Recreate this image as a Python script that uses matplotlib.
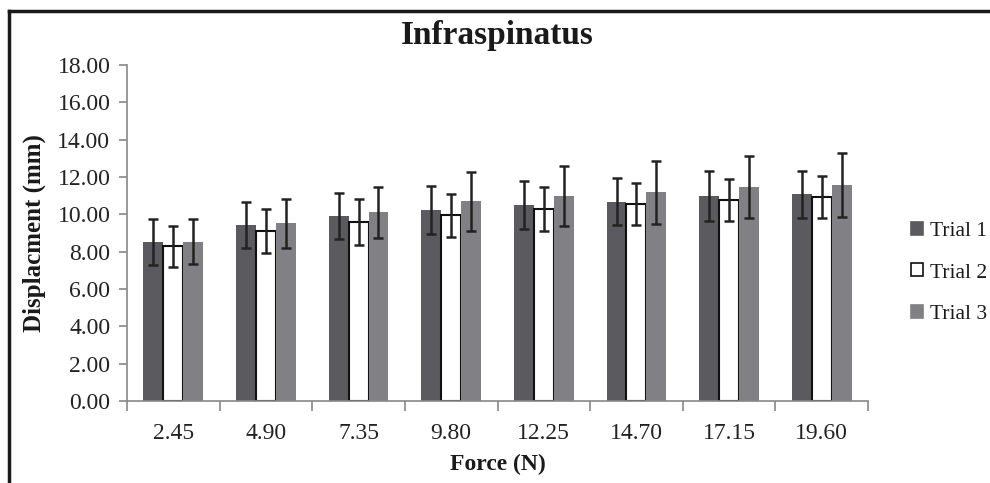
import numpy as np
import matplotlib.pyplot as plt
from matplotlib.patches import Patch
from matplotlib.lines import Line2D

plt.rcParams['font.family'] = ['Liberation Serif', 'DejaVu Serif']

# Data
forces = ["2.45", "4.90", "7.35", "9.80", "12.25", "14.70", "17.15", "19.60"]
trial1 = [8.53, 9.41, 9.91, 10.21, 10.48, 10.68, 10.98, 11.07]
trial2 = [8.29, 9.10, 9.59, 9.96, 10.27, 10.55, 10.77, 10.94]
trial3 = [8.53, 9.52, 10.11, 10.69, 10.98, 11.17, 11.48, 11.57]
err1 = [1.22, 1.23, 1.24, 1.29, 1.28, 1.27, 1.33, 1.24]
err2 = [1.10, 1.18, 1.23, 1.15, 1.17, 1.13, 1.13, 1.12]
err3 = [1.20, 1.30, 1.37, 1.60, 1.63, 1.67, 1.67, 1.72]
labels = ["Trial 1", "Trial 2", "Trial 3"]

fig = plt.figure(figsize=(9.9, 4.83), dpi=100)
ax = fig.add_axes([127 / 990, 1 - 401 / 483, (868 - 127) / 990, (401 - 65) / 483])

x = np.arange(len(forces))
w = 0.215
colors = ["#5b5b5f", "#ffffff", "#808085"]
edges = ["none", "#111111", "none"]
series = [(trial1, err1), (trial2, err2), (trial3, err3)]
for i, (vals, errs) in enumerate(series):
    ax.bar(x + (i - 1) * w, vals, w, color=colors[i], edgecolor=edges[i],
           linewidth=1.5, zorder=2)
    ax.errorbar(x + (i - 1) * w, vals, yerr=errs, fmt="none", ecolor="#222222",
                elinewidth=1.8, capsize=3.8, capthick=1.8, zorder=3)

ax.set_xlim(-0.5, len(forces) - 0.5)
ax.set_ylim(0, 18)
yt = np.arange(0, 18.1, 2)
ax.set_yticks(yt)
ax.set_yticklabels([f"{v:.2f}" for v in yt])
ax.set_xticks(np.arange(-0.5, len(forces), 1))
ax.set_xticklabels([])
ax.set_xticks(x, minor=True)
ax.set_xticklabels(forces, minor=True)
ax.tick_params(axis="x", which="minor", length=0, pad=16, labelsize=17, colors="#222222")
ax.tick_params(axis="x", which="major", length=7, color="#888888", width=1.2)
ax.tick_params(axis="y", length=6, color="#888888", width=1.2, labelsize=17,
               labelcolor="#222222", pad=6)
for s in ["top", "right"]:
    ax.spines[s].set_visible(False)
for s in ["left", "bottom"]:
    ax.spines[s].set_color("#888888")
    ax.spines[s].set_linewidth(1.2)

ax.set_title("Infraspinatus", fontsize=24, fontweight="bold", color="#1a1a1a", pad=15)
ax.set_xlabel("Force (N)", fontsize=17, fontweight="bold", color="#1a1a1a", labelpad=7)
ax.set_ylabel("Displacment (mm)", fontsize=18, fontweight="bold", color="#1a1a1a", labelpad=8)

handles = [Patch(facecolor=colors[i], edgecolor="#111111" if i == 1 else colors[i], linewidth=1.2)
           for i in range(3)]
fig.legend(handles, labels, loc="center left", bbox_to_anchor=(892 / 990, 1 - 273 / 483),
           frameon=False, fontsize=15.5, handlelength=0.55, handleheight=0.55,
           handletextpad=0.3, labelspacing=1.05, labelcolor="#1a1a1a")

# outer frame (top and left edges only)
fig.add_artist(Line2D([9 / 990, 1], [1 - 11 / 483, 1 - 11 / 483], color="#1a1a1a",
                      linewidth=2.5, transform=fig.transFigure))
fig.add_artist(Line2D([9 / 990, 9 / 990], [0, 1 - 11 / 483], color="#1a1a1a",
                      linewidth=2.5, transform=fig.transFigure))

fig.savefig("out.png", dpi=100)
